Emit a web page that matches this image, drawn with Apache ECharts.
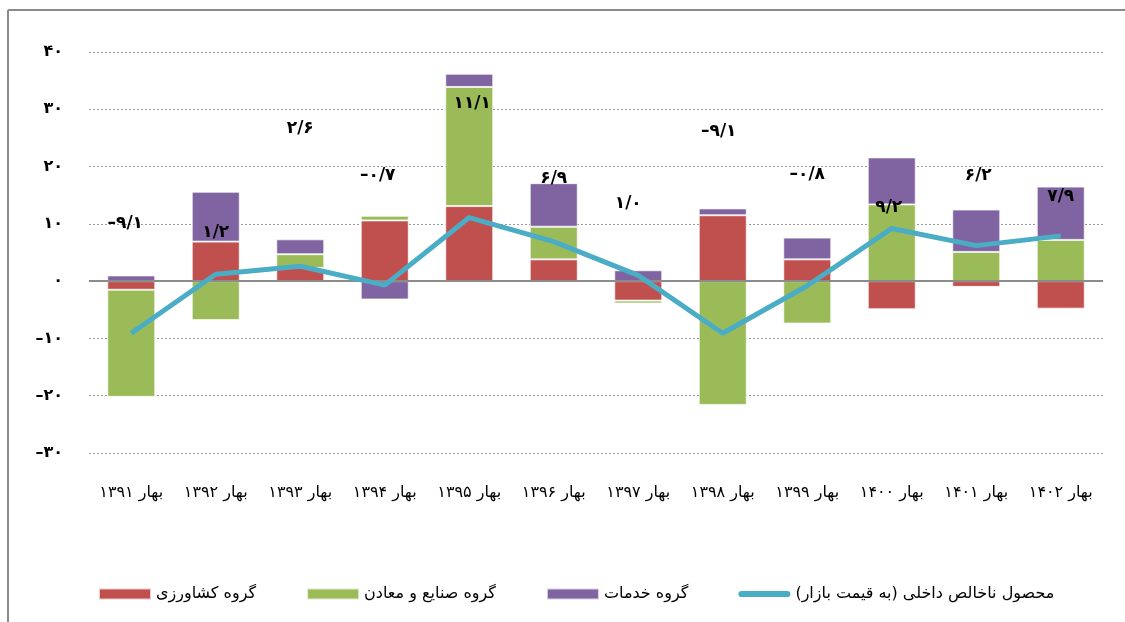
<!DOCTYPE html>
<html>
<head>
<meta charset="utf-8">
<script src="https://cdn.jsdelivr.net/npm/echarts@6/dist/echarts.min.js"></script>
<style>
  html, body { margin: 0; padding: 0; background: #fff; overflow: hidden; }
  #chart { width: 1125px; height: 622px; }
</style>
</head>
<body>
<div id="chart"></div>
<script>
// categories and values
const categories = ['بهار ۱۳۹۱', 'بهار ۱۳۹۲', 'بهار ۱۳۹۳', 'بهار ۱۳۹۴', 'بهار ۱۳۹۵', 'بهار ۱۳۹۶',
  'بهار ۱۳۹۷', 'بهار ۱۳۹۸', 'بهار ۱۳۹۹', 'بهار ۱۴۰۰', 'بهار ۱۴۰۱', 'بهار ۱۴۰۲']
const agriculture = [-1.5, 6.9, 2.3, 10.6, 13.1, 3.8, -3.4, 11.5, 3.8, -4.9, -1.0, -4.8]
const industry = [-18.7, -6.8, 2.4, 0.8, 20.8, 5.7, -0.5, -21.6, -7.4, 13.4, 5.1, 7.2]
const services = [1.0, 8.7, 2.6, -3.2, 2.3, 7.6, 1.9, 1.2, 3.8, 8.2, 7.4, 9.3]
const gdp = [-9.1, 1.2, 2.6, -0.7, 11.1, 6.9, 1.0, -9.1, -0.8, 9.2, 6.2, 7.9]
const seriesNames = ['گروه کشاورزی', 'گروه صنایع و معادن', 'گروه خدمات', 'محصول ناخالص داخلی (به قیمت بازار)']

// where each gdp label was dragged to (pixel offset from its point)
const labelOffsets = [[-6, -110], [0, -42], [0, -138], [-7, -110], [3, -114], [0, -63],
  [-10, -72], [-4, -202], [0, -111], [-3, -21], [2, -70], [0, -39]]

const FONT = 'DejaVu Sans'
const faDigits = '۰۱۲۳۴۵۶۷۸۹'

function toFa(v, decimals) {
  let s = decimals ? Math.abs(v).toFixed(decimals) : String(Math.abs(v))
  s = s.replace(/[0-9]/g, d => faDigits[+d]).replace('.', '/')
  return (v < 0 ? '–' : '') + s
}

const chart = echarts.init(document.getElementById('chart'))

const barBase = {
  type: 'bar',
  stack: 'total',
  barWidth: 48,
  itemStyle: { borderColor: 'rgba(255,255,255,0.7)', borderWidth: 1 }
}

chart.setOption({
  backgroundColor: '#fff',
  animation: false,
  // frame of the original picture (top and left edges only are visible)
  graphic: [
    { type: 'line', shape: { x1: 8, y1: 10, x2: 1125, y2: 10 }, style: { stroke: '#8a8a8a', lineWidth: 2 }, silent: true },
    { type: 'line', shape: { x1: 8, y1: 10, x2: 8, y2: 622 }, style: { stroke: '#8a8a8a', lineWidth: 2 }, silent: true }
  ],
  grid: { left: 89, right: 22, top: 52, bottom: 169 },
  legend: {
    left: 93,
    top: 581,
    itemWidth: 52,
    itemHeight: 11,
    itemGap: 50,
    textStyle: { fontFamily: FONT, fontSize: 16, color: '#000' },
    data: [
      { name: seriesNames[0], icon: 'rect' },
      { name: seriesNames[1], icon: 'rect' },
      { name: seriesNames[2], icon: 'rect' },
      { name: seriesNames[3], icon: 'path://M3,0 L47,0 A3,3 0 0 1 47,6 L3,6 A3,3 0 0 1 3,0 Z',
        itemStyle: { color: '#4BACC6' } }
    ]
  },
  xAxis: {
    type: 'category',
    data: categories,
    axisLine: { show: false },
    axisTick: { show: false },
    axisLabel: {
      interval: 0,
      margin: 32,
      fontFamily: FONT,
      fontSize: 16,
      color: '#000'
    }
  },
  yAxis: {
    type: 'value',
    min: -30,
    max: 40,
    interval: 10,
    axisLine: { show: false },
    axisTick: { show: false },
    axisLabel: {
      margin: 26,
      fontFamily: FONT,
      fontSize: 16,
      fontWeight: 'bold',
      color: '#000',
      formatter: v => toFa(v)
    },
    splitLine: { lineStyle: { color: '#9a9a9a', type: [2, 2], width: 1 } }
  },
  series: [
    Object.assign({}, barBase, {
      name: seriesNames[0],
      data: agriculture,
      itemStyle: Object.assign({}, barBase.itemStyle, { color: '#C0504D' }),
      markLine: {
        silent: true,
        symbol: ['none', 'none'],
        label: { show: false },
        lineStyle: { color: '#8c8c8c', width: 2, type: 'solid' },
        data: [{ yAxis: 0 }]
      }
    }),
    Object.assign({}, barBase, {
      name: seriesNames[1],
      data: industry,
      itemStyle: Object.assign({}, barBase.itemStyle, { color: '#9BBB59' })
    }),
    Object.assign({}, barBase, {
      name: seriesNames[2],
      data: services,
      itemStyle: Object.assign({}, barBase.itemStyle, { color: '#8064A2' })
    }),
    {
      name: seriesNames[3],
      type: 'line',
      symbol: 'circle',
      symbolSize: 0.1,
      showSymbol: true,
      z: 5,
      lineStyle: { color: '#4BACC6', width: 5 },
      itemStyle: { color: '#4BACC6' },
      data: gdp.map((v, i) => ({
        value: v,
        label: { offset: labelOffsets[i] }
      })),
      label: {
        show: true,
        position: 'inside',
        fontFamily: FONT,
        fontSize: 17,
        fontWeight: 'bold',
        color: '#000',
        formatter: p => toFa(p.value, 1)
      }
    }
  ]
})
</script>
</body>
</html>
